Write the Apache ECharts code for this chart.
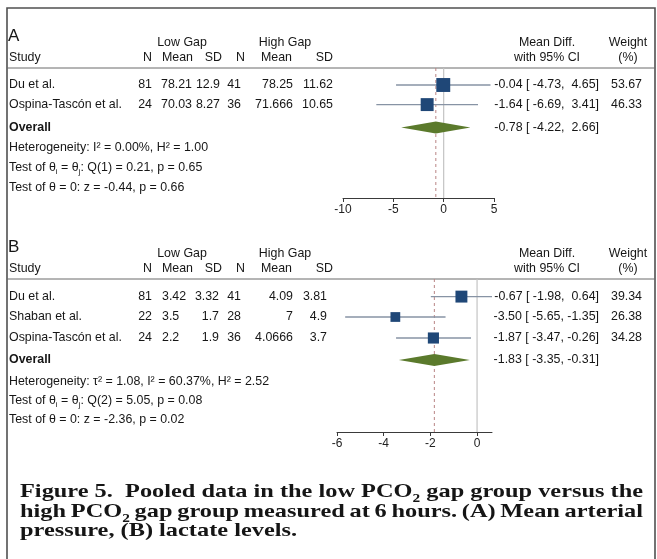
<!DOCTYPE html>
<html>
<head>
<meta charset="utf-8">
<script src="https://cdn.jsdelivr.net/npm/echarts@6.0.0/dist/echarts.min.js"></script>
<style>html,body{margin:0;padding:0;background:#fff}#c{width:657px;height:559px}</style>
</head>
<body>
<div id="c"></div>
<script>
// ---------------- DATA: Panel A (mean arterial pressure) ----------------
const studiesA   = ['Du et al.', 'Ospina-Tascón et al.'];
const lowNA      = [81, 24];
const lowMeanA   = [78.21, 70.03];
const lowSDA     = [12.9, 8.27];
const highNA     = [41, 36];
const highMeanA  = [78.25, 71.666];
const highSDA    = [11.62, 10.65];
const mdA        = [-0.04, -1.64];
const loA        = [-4.73, -6.69];
const hiA        = [4.65, 3.41];
const weightA    = [53.67, 46.33];
const overallA   = [-0.78, -4.22, 2.66];          // estimate, lower, upper
const hetA       = 'Heterogeneity: I² = 0.00%, H² = 1.00';
const qA         = ['1', '0.21', '0.65'];         // df, Q, p
const zA         = ['-0.44', '0.66'];             // z, p
const ticksA     = [-10, -5, 0, 5];

// ---------------- DATA: Panel B (lactate) ----------------
const studiesB   = ['Du et al.', 'Shaban et al.', 'Ospina-Tascón et al.'];
const lowNB      = [81, 22, 24];
const lowMeanB   = [3.42, 3.5, 2.2];
const lowSDB     = [3.32, 1.7, 1.9];
const highNB     = [41, 28, 36];
const highMeanB  = [4.09, 7, 4.0666];
const highSDB    = [3.81, 4.9, 3.7];
const mdB        = [-0.67, -3.50, -1.87];
const loB        = [-1.98, -5.65, -3.47];
const hiB        = [0.64, -1.35, -0.26];
const weightB    = [39.34, 26.38, 34.28];
const overallB   = [-1.83, -3.35, -0.31];
const hetB       = 'Heterogeneity: τ² = 1.08, I² = 60.37%, H² = 2.52';
const qB         = ['2', '5.05', '0.08'];
const zB         = ['-2.36', '0.02'];
const ticksB     = [-6, -4, -2, 0];

// ---------------- Caption ----------------
const captionLines = [
  ['Figure', '5.', '', 'Pooled', 'data', 'in', 'the', 'low', ['PCO', '2'], 'gap', 'group', 'versus', 'the'],
  ['high', ['PCO', '2'], 'gap', 'group', 'measured', 'at', '6', 'hours.', '(A)', 'Mean', 'arterial'],
  ['pressure,', '(B)', 'lactate', 'levels.']
];

// ---------------- LAYOUT ----------------
const FONT = '"Liberation Sans", Arial, Helvetica, sans-serif';
const SERIF_FAM = '"Liberation Serif"';
const SERIF = '"Liberation Serif", "Times New Roman", serif';
const TXT = '#161616';
const PX_ROW = 20;
const FS = 12.4;

const panels = [
  {
    label: 'A', top: 68, bottom: 198, left: 343, right: 494,
    min: -10, max: 5, ticks: ticksA,
    studies: studiesA, lowN: lowNA, lowMean: lowMeanA, lowSD: lowSDA,
    highN: highNA, highMean: highMeanA, highSD: highSDA,
    md: mdA, lo: loA, hi: hiA, w: weightA, overall: overallA,
    het: hetA, q: qA, z: zA,
    rows: [0.85, 1.83], overallRow: 2.98, statRows: [4.0, 5.0, 6.0],
    cols: {n1: [152, 'right'], m1: [161, 'left'], s1: [220, 'right'], n2: [241, 'right'], m2: [293, 'right'], s2: [333, 'right']}
  },
  {
    label: 'B', top: 279, bottom: 432, left: 337, right: 492,
    min: -6, max: Math.max(...hiB), ticks: ticksB,
    studies: studiesB, lowN: lowNB, lowMean: lowMeanB, lowSD: lowSDB,
    highN: highNB, highMean: highMeanB, highSD: highSDB,
    md: mdB, lo: loB, hi: hiB, w: weightB, overall: overallB,
    het: hetB, q: qB, z: zB,
    rows: [0.88, 1.9, 2.95], overallRow: 4.05, statRows: [5.15, 6.1, 7.05],
    cols: {n1: [152, 'right'], m1: [162, 'left'], s1: [219, 'right'], n2: [241, 'right'], m2: [293, 'right'], s2: [327, 'right']}
  }
];
const HDR = {n1: 152, m1: 193, s1: 222, n2: 245, m2: 292, s2: 333, low: 182, high: 285,
             md: 547, wt: 628, ci: 599, wv: 642, study: 9};

function fmtCI(e, l, h) {
  const p = v => (v < 0 ? '' : ' ') + v.toFixed(2);
  return e.toFixed(2) + ' [ ' + p(l) + ', ' + p(h) + ']';
}

const RICH = {
  s: {fontSize: 8, lineHeight: 9, verticalAlign: 'bottom', fontFamily: FONT, fill: TXT, color: TXT}
};

const grids = [], xAxes = [], yAxes = [], series = [];

panels.forEach((P, pi) => {
  const yMax = (P.bottom - P.top) / PX_ROW;
  grids.push({left: P.left, width: P.right - P.left, top: P.top, height: P.bottom - P.top, containLabel: false});
  xAxes.push({
    type: 'value', gridIndex: pi, min: P.min, max: P.max,
    axisLine: {show: true, onZero: false, lineStyle: {color: '#3a3a3a', width: 1}},
    axisTick: {show: true, length: 4, inside: false, customValues: P.ticks, lineStyle: {color: '#3a3a3a'}},
    axisLabel: {customValues: P.ticks, fontSize: 12, color: '#222', margin: 6, fontFamily: FONT,
                formatter: v => String(v)},
    splitLine: {show: false}
  });
  yAxes.push({type: 'value', gridIndex: pi, inverse: true, min: 0, max: yMax, show: false});

  const C = P.cols;
  const rowsY = [], rowsT = [];
  rowsY.push(-1.6); rowsT.push([{t: P.label, x: 8, a: 'left', fs: 17}]);
  rowsY.push(-1.25); rowsT.push([
    {t: 'Low Gap', x: HDR.low, a: 'center'}, {t: 'High Gap', x: HDR.high, a: 'center'},
    {t: 'Mean Diff.', x: HDR.md, a: 'center'}, {t: 'Weight', x: HDR.wt, a: 'center'}]);
  rowsY.push(-0.5); rowsT.push([
    {t: 'Study', x: HDR.study, a: 'left'},
    {t: 'N', x: HDR.n1, a: 'right'}, {t: 'Mean', x: HDR.m1, a: 'right'}, {t: 'SD', x: HDR.s1, a: 'right'},
    {t: 'N', x: HDR.n2, a: 'right'}, {t: 'Mean', x: HDR.m2, a: 'right'}, {t: 'SD', x: HDR.s2, a: 'right'},
    {t: 'with 95% CI', x: HDR.md, a: 'center'}, {t: '(%)', x: HDR.wt, a: 'center'}]);
  P.studies.forEach((s, i) => {
    rowsY.push(P.rows[i]);
    rowsT.push([
      {t: s, x: HDR.study, a: 'left'},
      {t: String(P.lowN[i]), x: C.n1[0], a: C.n1[1]},
      {t: String(P.lowMean[i]), x: C.m1[0], a: C.m1[1]},
      {t: String(P.lowSD[i]), x: C.s1[0], a: C.s1[1]},
      {t: String(P.highN[i]), x: C.n2[0], a: C.n2[1]},
      {t: String(P.highMean[i]), x: C.m2[0], a: C.m2[1]},
      {t: String(P.highSD[i]), x: C.s2[0], a: C.s2[1]},
      {t: fmtCI(P.md[i], P.lo[i], P.hi[i]), x: HDR.ci, a: 'right'},
      {t: P.w[i].toFixed(2), x: HDR.wv, a: 'right'}
    ]);
  });
  rowsY.push(P.overallRow); rowsT.push([
    {t: 'Overall', x: HDR.study, a: 'left', b: true},
    {t: fmtCI(P.overall[0], P.overall[1], P.overall[2]), x: HDR.ci, a: 'right'}]);
  rowsY.push(P.statRows[0]); rowsT.push([{t: P.het, x: HDR.study, a: 'left'}]);
  rowsY.push(P.statRows[1]); rowsT.push([{t: 'Test of θ{s|i} = θ{s|j}: Q(' + P.q[0] + ') = ' + P.q[1] + ', p = ' + P.q[2], x: HDR.study, a: 'left'}]);
  rowsY.push(P.statRows[2]); rowsT.push([{t: 'Test of θ = 0: z = ' + P.z[0] + ', p = ' + P.z[1], x: HDR.study, a: 'left'}]);

  const common = {xAxisIndex: pi, yAxisIndex: pi, silent: true, animation: false};

  // zero line and overall dashed line
  series.push(Object.assign({
    type: 'custom', data: [[0, 0]], z: 1,
    renderItem: (params, api) => {
      const a = api.coord([0, 0]), b = api.coord([0, yMax]);
      return {type: 'line', shape: {x1: a[0], y1: a[1], x2: b[0], y2: b[1]},
              style: {stroke: '#c4c4c4', lineWidth: 1.2}};
    }
  }, common));
  series.push(Object.assign({
    type: 'custom', data: [[P.overall[0], 0]], z: 2,
    renderItem: (params, api) => {
      const a = api.coord([api.value(0), 0]), b = api.coord([api.value(0), yMax]);
      return {type: 'line', shape: {x1: a[0], y1: a[1], x2: b[0], y2: b[1]},
              style: {stroke: '#b98585', lineWidth: 1, lineDash: [3, 3]}};
    }
  }, common));
  // CI whiskers
  series.push(Object.assign({
    type: 'custom', z: 3,
    data: P.md.map((m, i) => [P.lo[i], P.hi[i], P.rows[i]]),
    encode: {x: [0, 1], y: 2},
    renderItem: (params, api) => {
      const a = api.coord([api.value(0), api.value(2)]), b = api.coord([api.value(1), api.value(2)]);
      return {type: 'line', shape: {x1: a[0], y1: a[1], x2: b[0], y2: b[1]},
              style: {stroke: '#8793a4', lineWidth: 1.3}};
    }
  }, common));
  // squares (area proportional to weight)
  series.push(Object.assign({
    type: 'scatter', z: 4, symbol: 'rect',
    data: P.md.map((m, i) => [m, P.rows[i], P.w[i]]),
    symbolSize: v => 1.9 * Math.sqrt(v[2]),
    itemStyle: {color: '#1f4777', opacity: 1}
  }, common));
  // overall diamond
  series.push(Object.assign({
    type: 'custom', z: 5,
    data: [[P.overall[0], P.overall[1], P.overall[2], P.overallRow]],
    encode: {x: [0, 1, 2], y: 3},
    renderItem: (params, api) => {
      const r = api.value(3);
      const e = api.coord([api.value(0), r]), l = api.coord([api.value(1), r]), h = api.coord([api.value(2), r]);
      return {type: 'polygon', shape: {points: [[l[0], l[1]], [e[0], e[1] - 6], [h[0], h[1]], [e[0], e[1] + 6]]},
              style: {fill: '#5b7a2c'}};
    }
  }, common));
  // table text
  series.push(Object.assign({
    type: 'custom', z: 6, clip: false,
    data: rowsY.map(y => [0, y]),
    renderItem: (params, api) => {
      const y = api.coord([0, api.value(1)])[1];
      const items = rowsT[params.dataIndex];
      return {type: 'group', children: items.map(t => ({
        type: 'text', x: t.x, y: y,
        style: {text: t.t, align: t.a, textAlign: t.a, verticalAlign: 'middle', textVerticalAlign: 'middle',
                fontSize: t.fs || FS, fontFamily: FONT, fontWeight: t.b ? 'bold' : 'normal',
                fill: TXT, lineHeight: 16, rich: RICH}
      }))};
    }
  }, common));
});

// ---------------- Graphic: frame, header rules, caption ----------------
const graphic = [
  {type: 'polyline', shape: {points: [[7, 559], [7, 8], [655, 8], [655, 559]]},
   style: {stroke: '#505050', lineWidth: 1.6, fill: null}, silent: true},
  {type: 'line', shape: {x1: 7, y1: panels[0].top, x2: 655, y2: panels[0].top}, style: {stroke: '#6a6a6a', lineWidth: 1}},
  {type: 'line', shape: {x1: 7, y1: panels[1].top, x2: 655, y2: panels[1].top}, style: {stroke: '#6a6a6a', lineWidth: 1}}
];

(function caption() {
  const cv = document.createElement('canvas').getContext('2d');
  const capLeft = 20, capWidth = 623, baselines = [499, 518.5, 538];
  const fs = 19, subFs = 12, subDrop = 4;
  const f = s => 'bold ' + s + 'px ' + SERIF_FAM;
  function wordW(wd) {
    if (Array.isArray(wd)) {
      cv.font = f(fs); let w = cv.measureText(wd[0]).width;
      cv.font = f(subFs); w += cv.measureText(wd[1]).width;
      return w;
    }
    cv.font = f(fs); return cv.measureText(wd).width;
  }
  cv.font = f(fs);
  const sp = cv.measureText(' ').width;
  const nat = line => line.reduce((s, wd) => s + wordW(wd), 0) + sp * (line.length - 1);
  const sx = capWidth / nat(captionLines[0]);
  const mid = 0.3375;
  captionLines.forEach((line, li) => {
    const total = line.reduce((s, wd) => s + wordW(wd), 0) * sx;
    const gap = li < 2 ? (capWidth - total) / (line.length - 1) : sp * sx;
    let x = capLeft;
    const base = baselines[li];
    line.forEach(wd => {
      const isR = Array.isArray(wd);
      const main = isR ? wd[0] : wd;
      if (main) {
        graphic.push({
          type: 'text', x: x, y: base - mid * fs, scaleX: sx, silent: true,
          style: {text: main, fontFamily: SERIF, fontWeight: 'bold', fontSize: fs, fill: '#151515',
                  align: 'left', verticalAlign: 'middle', textVerticalAlign: 'middle', lineHeight: fs}
        });
      }
      if (isR) {
        cv.font = f(fs);
        const mw = cv.measureText(wd[0]).width * sx;
        graphic.push({
          type: 'text', x: x + mw, y: base + subDrop - mid * subFs, scaleX: sx, silent: true,
          style: {text: wd[1], fontFamily: SERIF, fontWeight: 'bold', fontSize: subFs, fill: '#151515',
                  align: 'left', verticalAlign: 'middle', textVerticalAlign: 'middle', lineHeight: subFs}
        });
      }
      x += wordW(wd) * sx + gap;
    });
  });
})();

const chart = echarts.init(document.getElementById('c'), null, {renderer: 'canvas', width: 657, height: 559});
chart.setOption({
  animation: false,
  backgroundColor: '#ffffff',
  grid: grids, xAxis: xAxes, yAxis: yAxes, series: series, graphic: graphic
});
</script>
</body>
</html>
